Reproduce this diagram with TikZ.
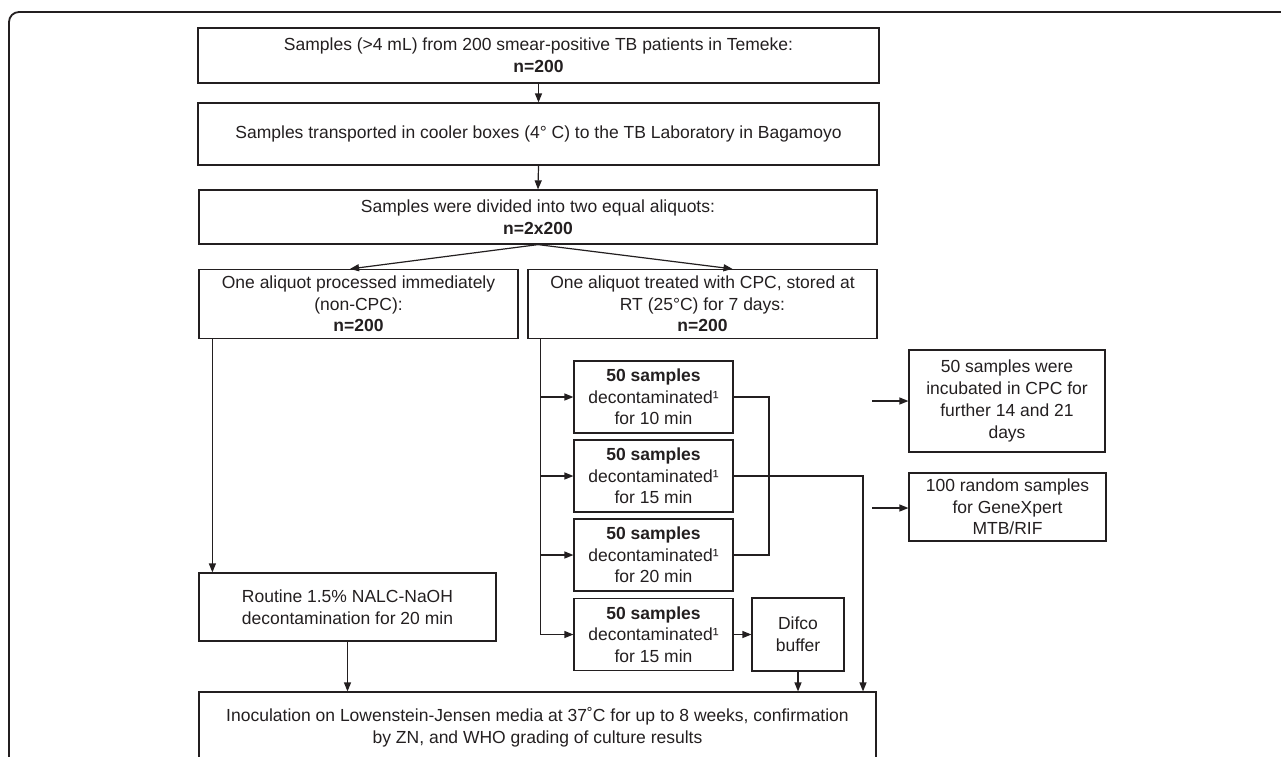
\documentclass[tikz,border=0pt]{standalone}
\usepackage{fontspec}
\setmainfont{Liberation Sans}
\usetikzlibrary{arrows.meta}
\definecolor{ink}{HTML}{231F20}
\newcommand\fs{\fontsize{17.5}{21.7}\selectfont}
\begin{document}
\begin{tikzpicture}[x=1pt,y=-1pt,
  box/.style={draw=ink, line width=1.2pt, inner sep=0pt, align=center, text=ink, font=\fs},
  arr/.style={draw=ink, line width=1.2pt, -{Triangle[length=9pt,width=7pt]}},
  ln/.style={draw=ink, line width=1.2pt}]
\useasboundingbox (0,0) rectangle (1281,756);
\clip (0,0) rectangle (1281,756);
% outer frame
\draw[ink, line width=1.8pt, rounded corners=10pt] (9,800) -- (9,12) -- (1400,12);
% boxes
\node[box, minimum width=681pt, minimum height=55pt] (b1) at (538.5,55.5)
  {Samples (>4 mL) from 200 smear-positive TB patients in Temeke:\\ \textbf{n=200}};
\node[box, minimum width=681pt, minimum height=62pt] (b2) at (538.5,134)
  {Samples transported in cooler boxes (4° C) to the TB Laboratory in Bagamoyo};
\node[box, minimum width=678pt, minimum height=54pt] (b3) at (538,217)
  {Samples were divided into two equal aliquots:\\ \textbf{n=2x200}};
\node[box, minimum width=319pt, minimum height=69pt] (L) at (358.5,304)
  {One aliquot processed immediately\\ (non-CPC):\\ \textbf{n=200}};
\node[box, minimum width=349pt, minimum height=69pt] (R) at (702.5,304)
  {One aliquot treated with CPC, stored at\\ RT (25°C) for 7 days:\\ \textbf{n=200}};
\node[box, minimum width=297pt, minimum height=68pt] (Rt) at (347.5,607)
  {Routine 1.5\% NALC-NaOH\\ decontamination for 20 min};
\node[box, minimum width=677pt, minimum height=70pt] (Bot) at (537.5,727)
  {Inoculation on Lowenstein-Jensen media at 37˚C for up to 8 weeks, confirmation\\ by ZN, and WHO grading of culture results};
\node[box, minimum width=159pt, minimum height=72pt] (A) at (653.5,397)
  {\textbf{50 samples}\\ decontaminated¹\\ for 10 min};
\node[box, minimum width=159pt, minimum height=72pt] (B) at (653.5,476)
  {\textbf{50 samples}\\ decontaminated¹\\ for 15 min};
\node[box, minimum width=159pt, minimum height=72pt] (C) at (653.5,555)
  {\textbf{50 samples}\\ decontaminated¹\\ for 20 min};
\node[box, minimum width=159pt, minimum height=72pt] (D) at (653.5,634.5)
  {\textbf{50 samples}\\ decontaminated¹\\ for 15 min};
\node[box, minimum width=92pt, minimum height=73pt] (Df) at (798,634.5)
  {Difco\\ buffer};
\node[box, minimum width=196pt, minimum height=102pt] (Inc) at (1007,401)
  {50 samples were\\ incubated in CPC for\\ further 14 and 21\\ days};
\node[box, minimum width=197pt, minimum height=68pt] (Gx) at (1007.5,507)
  {100 random samples\\ for GeneXpert\\ MTB/RIF};
% connectors
\draw[arr] (b1.south) -- (b2.north);
\draw[arr] (b2.south) -- (b3.north);
\draw[arr] (b3.south) -- ([xshift=-8.5pt]L.north);
\draw[arr] (b3.south) -- ([xshift=30pt]R.north);
\draw[arr] ([xshift=14pt]L.south west) -- ([xshift=14pt]L.south west |- Rt.north);
\draw[arr] (Rt.south) -- (Rt.south |- Bot.north);
\coordinate (trunk) at ([xshift=13pt]R.south west);
\draw[ln] (trunk) -- (trunk |- D.west);
\draw[arr] (trunk |- A.west) -- (A.west);
\draw[arr] (trunk |- B.west) -- (B.west);
\draw[arr] (trunk |- C.west) -- (C.west);
\draw[arr] (trunk |- D.west) -- (D.west);
\coordinate (brk) at (769,0);
\draw[ln] (A.east) -- (A.east -| brk) -- (C.east -| brk) -- (C.east);
\coordinate (drop) at (863,0);
\draw[arr] (B.east) -- (B.east -| drop) -- (drop |- Bot.north);
\draw[arr] (D.east) -- (Df.west);
\draw[arr] (Df.south) -- (Df.south |- Bot.north);
\coordinate (f1) at (872,401);
\coordinate (f2) at (872,508);
\draw[arr] (f1) -- (f1 -| Inc.west);
\draw[arr] (f2) -- (f2 -| Gx.west);
\end{tikzpicture}
\end{document}
